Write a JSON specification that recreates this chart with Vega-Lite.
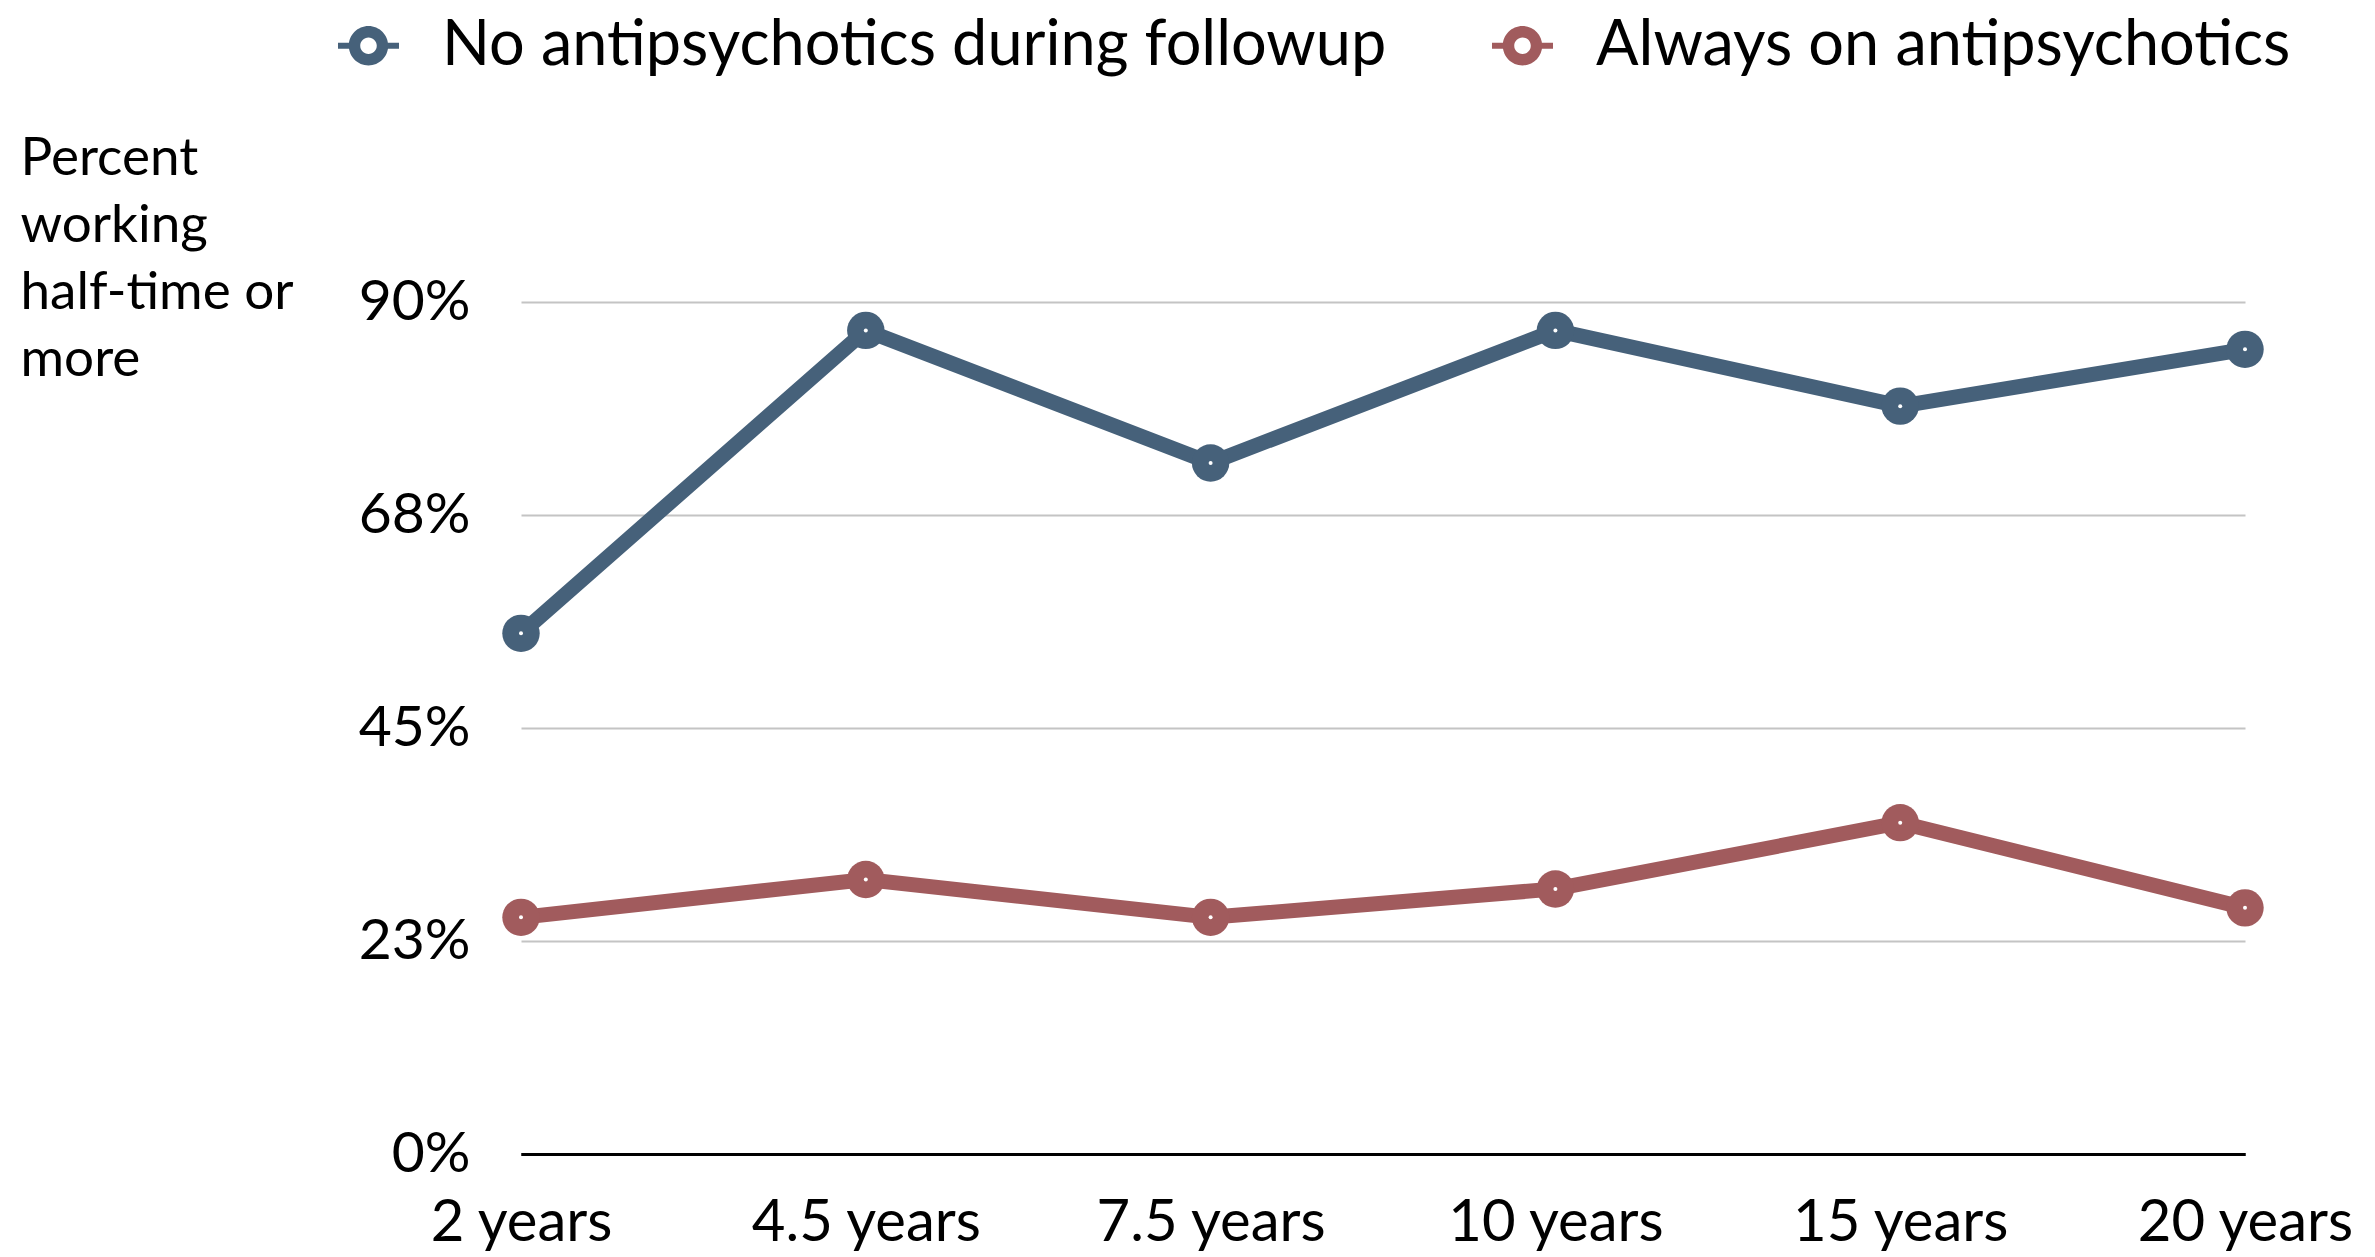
{
  "$schema": "https://vega.github.io/schema/vega-lite/v6.json",
  "width": 1724,
  "height": 852,
  "autosize": {"type": "none"},
  "padding": {"left": 521, "top": 302, "right": 130, "bottom": 103},
  "background": "white",
  "config": {
    "view": {"stroke": null},
    "font": "Lato",
    "axis": {"labelFont": "Lato", "titleFont": "Lato", "labelColor": "black", "titleColor": "black"},
    "legend": {"labelFont": "Lato"}
  },
  "data": {
    "values": [
      {"time": "2 years", "group": "No antipsychotics during followup", "value": 55},
      {"time": "4.5 years", "group": "No antipsychotics during followup", "value": 87},
      {"time": "7.5 years", "group": "No antipsychotics during followup", "value": 73},
      {"time": "10 years", "group": "No antipsychotics during followup", "value": 87},
      {"time": "15 years", "group": "No antipsychotics during followup", "value": 79},
      {"time": "20 years", "group": "No antipsychotics during followup", "value": 85},
      {"time": "2 years", "group": "Always on antipsychotics", "value": 25},
      {"time": "4.5 years", "group": "Always on antipsychotics", "value": 29},
      {"time": "7.5 years", "group": "Always on antipsychotics", "value": 25},
      {"time": "10 years", "group": "Always on antipsychotics", "value": 28},
      {"time": "15 years", "group": "Always on antipsychotics", "value": 35},
      {"time": "20 years", "group": "Always on antipsychotics", "value": 26}
    ]
  },
  "encoding": {
    "x": {
      "field": "time",
      "type": "ordinal",
      "sort": ["2 years", "4.5 years", "7.5 years", "10 years", "15 years", "20 years"],
      "scale": {"type": "point", "padding": 0},
      "axis": {
        "title": null,
        "labelAngle": 0,
        "labelFontSize": 58,
        "labelPadding": 40,
        "labelBaseline": "top",
        "labelLimit": 1000,
        "labelOverlap": false,
        "ticks": false,
        "domain": true,
        "domainColor": "black",
        "domainWidth": 3,
        "grid": false
      }
    },
    "y": {
      "field": "value",
      "type": "quantitative",
      "scale": {"domain": [0, 90], "nice": false},
      "axis": {
        "values": [0, 22.5, 45, 67.5, 90],
        "labelExpr": "round(datum.value) + '%'",
        "labelFontSize": 57,
        "labelPadding": 51,
        "ticks": false,
        "domain": false,
        "grid": true,
        "gridColor": {"condition": {"test": "datum.value === 0", "value": "black"}, "value": "#c4c4c4"},
        "gridWidth": {"condition": {"test": "datum.value === 0", "value": 3}, "value": 2},
        "title": ["Percent", "working", "half-time or", "more"],
        "titleFontSize": 53,
        "titleFontWeight": "normal",
        "titleAngle": 0,
        "titleAlign": "left",
        "titleBaseline": "top",
        "titleLineHeight": 67,
        "titleX": -501,
        "titleY": -170
      }
    }
  },
  "layer": [
    {
      "mark": {"type": "line", "strokeWidth": 15},
      "encoding": {
        "color": {
          "field": "group",
          "type": "nominal",
          "scale": {
            "domain": ["No antipsychotics during followup", "Always on antipsychotics"],
            "range": ["#46617a", "#a15b5d"]
          },
          "legend": {
            "title": null,
            "orient": "none",
            "direction": "horizontal",
            "legendX": -184,
            "legendY": -288,
            "labelFontSize": 63,
            "labelColor": "black",
            "labelLimit": 2000,
            "labelOffset": 42,
            "columnPadding": 104,
            "symbolType": "M -1 0 A 1 1 0 1 1 1 0 A 1 1 0 1 1 -1 0 Z M -0.42 0 A 0.42 0.42 0 1 0 0.42 0 A 0.42 0.42 0 1 0 -0.42 0 Z M -1.55 -0.15 L -0.95 -0.15 L -0.95 0.15 L -1.55 0.15 Z M 0.95 -0.15 L 1.55 -0.15 L 1.55 0.15 L 0.95 0.15 Z",
            "symbolSize": 1550,
            "symbolStrokeWidth": 0,
            "encode": {
              "symbols": {
                "update": {"fill": {"scale": "color", "field": "value"}, "fillOpacity": {"value": 1}, "strokeWidth": {"value": 0}}
              }
            }
          }
        }
      }
    },
    {
      "mark": {"type": "point", "filled": true, "size": 1400, "opacity": 1, "strokeWidth": 0},
      "encoding": {
        "fill": {
          "field": "group",
          "type": "nominal",
          "scale": {
            "domain": ["No antipsychotics during followup", "Always on antipsychotics"],
            "range": ["#46617a", "#a15b5d"]
          },
          "legend": null
        }
      }
    },
    {"mark": {"type": "point", "filled": true, "size": 16, "opacity": 1, "color": "white"}}
  ]
}
